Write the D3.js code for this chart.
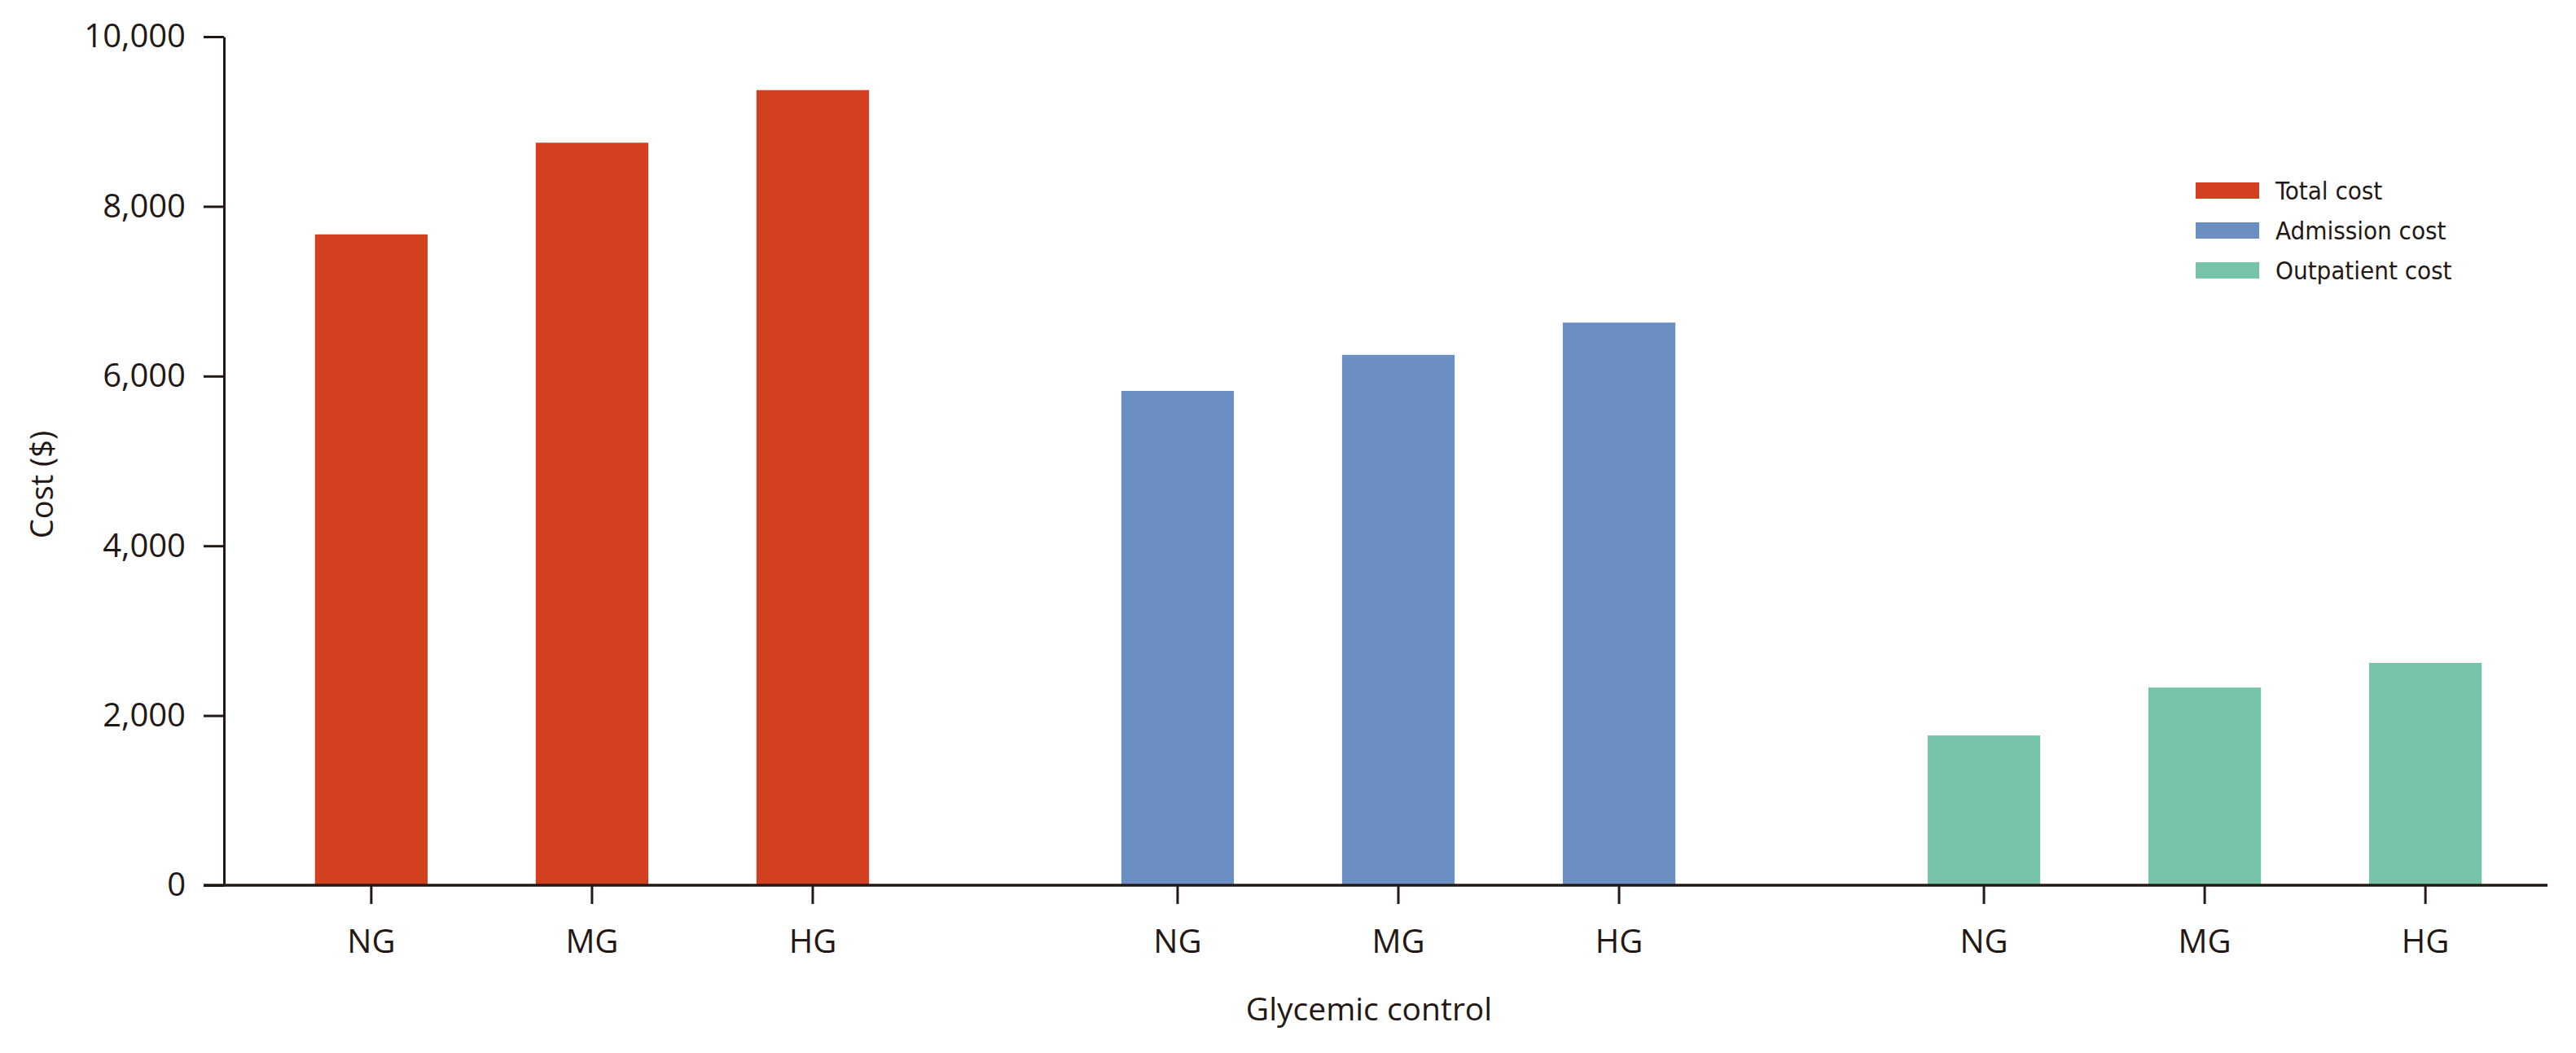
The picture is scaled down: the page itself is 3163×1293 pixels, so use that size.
<!DOCTYPE html>
<html>
<head>
<meta charset="utf-8">
<script src="https://cdn.jsdelivr.net/npm/d3@7"></script>
<style>
  body { margin: 0; background: #fff; }
  svg { display: block; }
  .axis text { font-family: "Open Sans", "Liberation Sans", sans-serif; font-size: 40px; fill: #231815; }
  .axis line, .axis path { stroke: #231815; stroke-width: 3px; }
</style>
</head>
<body>
<div id="chart"></div>
<script>
// data
const categories = ["NG", "MG", "HG"];
const seriesNames = ["Total cost", "Admission cost", "Outpatient cost"];
const totalCost = [7670, 8750, 9370];
const admissionCost = [5825, 6250, 6630];
const outpatientCost = [1765, 2330, 2620];
const yTicks = [0, 2000, 4000, 6000, 8000, 10000];
const colors = ["#D3401F", "#6B8EC3", "#77C3AA"];

const seriesValues = [totalCost, admissionCost, outpatientCost];

const W = 3163, H = 1293;
const margin = {top: 45, right: 35, bottom: 206, left: 275},
    width = W - margin.left - margin.right,
    height = H - margin.top - margin.bottom;

const svg = d3.select("#chart")
  .append("svg")
    .attr("width", W)
    .attr("height", H);

const g = svg.append("g")
    .attr("transform", `translate(${margin.left},${margin.top})`);

const y = d3.scaleLinear()
    .domain([0, 10000])
    .range([height, 0]);

// one band per cost type, inner band per glycemic group
const x0 = d3.scaleBand()
    .domain(seriesNames)
    .range([44, width - 13])
    .paddingInner(0.176);

const x1 = d3.scaleBand()
    .domain(categories)
    .range([0, x0.bandwidth()])
    .paddingInner(0.49)
    .paddingOuter(0.25);

const groups = g.selectAll(".group")
  .data(seriesNames)
  .enter()
  .append("g")
    .attr("class", "group")
    .attr("transform", d => `translate(${x0(d)},0)`);

groups.selectAll("rect")
  .data((d, i) => categories.map((c, j) => ({cat: c, value: seriesValues[i][j], color: colors[i]})))
  .enter()
  .append("rect")
    .attr("x", d => x1(d.cat))
    .attr("y", d => y(d.value))
    .attr("width", x1.bandwidth())
    .attr("height", d => height - y(d.value))
    .attr("fill", d => d.color);

// bottom ticks for every group
groups.append("g")
    .attr("class", "axis")
    .attr("transform", `translate(0,${height})`)
    .call(d3.axisBottom(x1).tickSize(23).tickPadding(32).tickSizeOuter(0))
    .call(a => a.select(".domain").remove());

// baseline
g.append("line")
    .attr("x1", -25)
    .attr("x2", width)
    .attr("y1", height)
    .attr("y2", height)
    .attr("stroke", "#231815")
    .attr("stroke-width", 3.5);

g.append("g")
    .attr("class", "axis")
    .call(d3.axisLeft(y)
      .tickValues(yTicks)
      .tickFormat(d3.format(","))
      .tickSize(25)
      .tickPadding(22)
      .tickSizeOuter(0));

// axis titles
svg.append("text")
    .attr("transform", "translate(50,595) rotate(-90)")
    .attr("text-anchor", "middle")
    .attr("dominant-baseline", "central")
    .style("font-family", "'Open Sans', 'Liberation Sans', sans-serif")
    .style("font-size", "38px")
    .style("fill", "#231815")
    .text("Cost ($)");

svg.append("text")
    .attr("x", 1681)
    .attr("y", 1237)
    .attr("text-anchor", "middle")
    .attr("dominant-baseline", "central")
    .style("font-family", "'Open Sans', 'Liberation Sans', sans-serif")
    .style("font-size", "39px")
    .style("fill", "#231815")
    .text("Glycemic control");

// legend
const legend = svg.append("g")
    .attr("transform", "translate(2696,224)");

const item = legend.selectAll(".item")
  .data(seriesNames)
  .enter()
  .append("g")
    .attr("class", "item")
    .attr("transform", (d, i) => `translate(0,${i * 49})`);

item.append("rect")
    .attr("width", 78)
    .attr("height", 20)
    .attr("fill", (d, i) => colors[i]);

item.append("text")
    .attr("x", 98)
    .attr("y", 10)
    .attr("dominant-baseline", "central")
    .style("font-family", "'Liberation Sans Narrow', 'DejaVu Sans Condensed', sans-serif")
    .style("font-size", "31px")
    .style("fill", "#231815")
    .text(d => d);
</script>
</body>
</html>
